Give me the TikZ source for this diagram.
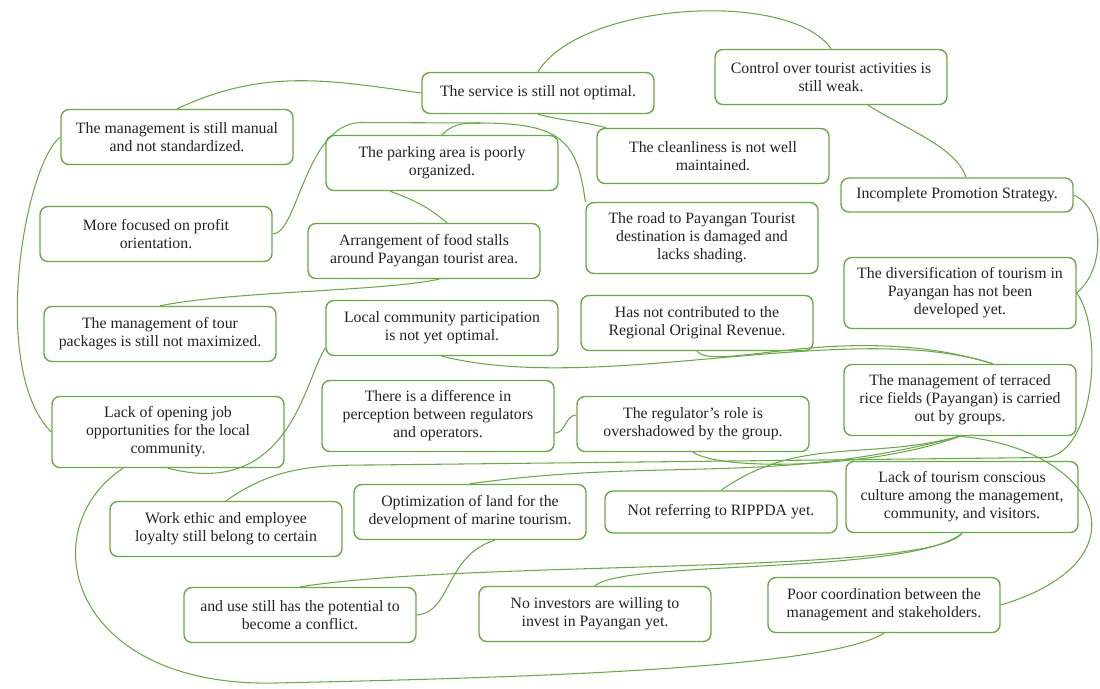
\documentclass[tikz,border=0pt]{standalone}
\usepackage{fontspec}
\setmainfont{Liberation Serif}
\definecolor{linegreen}{RGB}{104,170,68}
\definecolor{textgray}{RGB}{35,35,35}

\begin{document}
\begin{tikzpicture}[
    issue/.style={draw=linegreen, line width=0.8pt, rounded corners=4.5pt, minimum width=4.64cm,
        minimum height=1.1cm, inner ysep=3pt, align=center, text=textgray, font=\fontsize{9}{10.3}\selectfont},
    issue3/.style={issue, minimum height=1.42cm},
    link/.style={draw=linegreen, line width=0.6pt}]
    \useasboundingbox (0,0) rectangle (22,-13.76);

    \node[issue, minimum height=0.82cm] (svc) at (10.76,-1.86) {The service is still not optimal.};
    \node[issue] (ctrl) at (16.62,-1.54) {Control over tourist activities is\\still weak.};
    \node[issue] (manual) at (3.54,-2.74) {The management is still manual\\and not standardized.};
    \node[issue] (park) at (8.84,-3.26) {The parking area is poorly\\organized.};
    \node[issue] (clean) at (14.26,-3.12) {The cleanliness is not well\\maintained.};
    \node[issue, minimum height=0.68cm] (promo) at (19.14,-3.90) {Incomplete Promotion Strategy.};
    \node[issue] (profit) at (3.12,-4.68) {More focused on profit\\orientation.};
    \node[issue] (food) at (8.48,-5.02) {Arrangement of food stalls\\around Payangan tourist area.};
    \node[issue3] (road) at (14.04,-4.76) {The road to Payangan Tourist\\destination is damaged and\\lacks shading.};
    \node[issue3] (divers) at (19.20,-5.86) {The diversification of tourism in\\Payangan has not been\\developed yet.};
    \node[issue] (tour) at (3.20,-6.68) {The management of tour\\packages is still not maximized.};
    \node[issue] (local) at (8.84,-6.56) {Local community participation\\is not yet optimal.};
    \node[issue] (pad) at (13.94,-6.46) {Has not contributed to the\\Regional Original Revenue.};
    \node[issue3] (terrace) at (19.20,-8.00) {The management of terraced\\rice fields (Payangan) is carried\\out by groups.};
    \node[issue3] (percep) at (8.76,-8.32) {There is a difference in\\perception between regulators\\and operators.};
    \node[issue] (reg) at (13.86,-8.48) {The regulator's role is\\overshadowed by the group.};
    \node[issue3] (job) at (3.36,-8.64) {Lack of opening job\\opportunities for the local\\community.};
    \node[issue3] (culture) at (19.24,-9.94) {Lack of tourism conscious\\culture among the management,\\community, and visitors.};
    \node[issue] (ethic) at (4.52,-10.58) {Work ethic and employee\\loyalty still belong to certain};
    \node[issue] (marine) at (9.40,-10.24) {Optimization of land for the\\development of marine tourism.};
    \node[issue, minimum height=0.84cm] (rippda) at (14.42,-10.24) {Not referring to RIPPDA yet.};
    \node[issue] (conflict) at (6.00,-12.30) {and use still has the potential to\\become a conflict.};
    \node[issue] (invest) at (11.90,-12.28) {No investors are willing to\\invest in Payangan yet.};
    \node[issue] (coord) at (17.68,-12.10) {Poor coordination between the\\management and stakeholders.};

    \coordinate (pk) at (7.2,-2.45);
    \coordinate (rt) at (9.6,-2.46);
    \coordinate (w1) at (7.4,-9.3);
    \coordinate (w2) at (20.9,-9.15);
    \coordinate (lp) at (5.5,-13.66);

    \draw[link] (manual.north) to[out=25,in=172] (svc.west);
    \draw[link] (svc.north) .. controls +(0.84,1.39) and +(-0.82,1.2) .. (ctrl.north);
    \draw[link] ([xshift=0.74cm]ctrl.south) .. controls +(0.8,-0.5) and +(-0.2,0.6) .. ([xshift=0.18cm]promo.north);
    \draw[link] (promo.east) .. controls +(0.6,-0.25) and +(0.6,0.5) .. (divers.east);
    \draw[link] (svc.south) to[out=-15,in=165] ([xshift=0.2cm]clean.north west);
    \draw[link] (park.north) .. controls +(0.2,0.2) and +(-0.4,0) .. (rt) .. controls (11.2,-2.46) and (11.55,-2.8) .. (road.north west);
    \draw[link] (profit.east) .. controls +(0.5,0) and (6.1,-2.5) .. (pk) -- (rt);
    \draw[link] ([xshift=-1.04cm]park.south) to[out=-20,in=140] ([xshift=0.46cm]food.north);
    \draw[link] ([xshift=0.3cm]food.south) .. controls +(-1.2,-0.25) and +(1.5,0.3) .. (tour.north);
    \draw[link] ([yshift=-0.4cm]local.west) .. controls +(-0.42,-0.64) and +(2.44,-0.63) .. (job.south);
    \draw[link] (local.south) .. controls +(3.16,-0.79) and +(-2.86,0.92) .. ([xshift=0.66cm]terrace.north);
    \draw[link] (pad.south) .. controls +(0.36,-0.44) and +(-2.86,0.89) .. ([xshift=0.66cm]terrace.north);
    \draw[link] ([yshift=-0.34cm]percep.east) to[out=0,in=180] ([yshift=0.18cm]reg.west);
    \draw[link] (reg.south) .. controls +(0.54,-0.37) and +(-1.8,-0.67) .. (terrace.south);
    \draw[link] (rippda.north) to[out=35,in=-165] (terrace.south);
    \draw[link] (marine.north) to[out=8,in=-165] (terrace.south);
    \draw[link] (terrace.south) .. controls +(2.8,-0.27) and +(3.0,0.9) .. (coord.east);
    \draw[link] (ethic.north) to[out=35,in=180] (w1) -- (w2) .. controls +(1,0.05) and +(0.55,-0.75) .. (divers.east);
    \draw[link] ([xshift=0.5cm]marine.south) .. controls +(-1.0,-0.3) and +(0.7,0.05) .. (conflict.east);
    \draw[link] (culture.south) .. controls +(-0.64,-0.85) and +(3.5,0.55) .. (conflict.north);
    \draw[link] (invest.north) .. controls +(0.6,0.53) and +(-1.04,-0.85) .. (culture.south);
    \draw[link] ([xshift=-0.9cm]job.south) .. controls (0.6,-10.6) and (1.4,-13.75) .. (lp) .. controls (10,-13.56) and (16.5,-13.4) .. (coord.south);
    \draw[link] (manual.west) .. controls +(-0.72,-0.56) and +(-1.24,1.24) .. (job.west);
\end{tikzpicture}
\end{document}
